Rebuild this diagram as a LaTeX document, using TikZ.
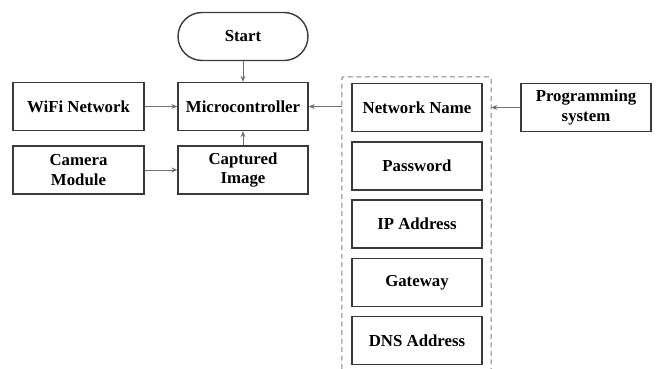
\documentclass[tikz,border=0pt]{standalone}
\usepackage{fontspec}
\setmainfont{Liberation Serif}
\usetikzlibrary{arrows.meta,calc}
\definecolor{boxline}{HTML}{3A3A3A}
\definecolor{arrowline}{HTML}{707070}
\definecolor{dashline}{HTML}{808080}
\begin{document}
\begin{tikzpicture}[x=1pt,y=-1pt,
  blk/.style={draw=boxline,line width=1.4pt,minimum width=130pt,minimum height=48pt,
    inner sep=0pt,align=center,font=\fontsize{16.8}{19.5}\selectfont\bfseries,text=black},
  term/.style={blk,rounded corners=24pt},
  conn/.style={draw=arrowline,line width=1pt,-{Stealth[length=6pt,width=5pt]}}]
\useasboundingbox (0,0) rectangle (656,369);
\node[term] (start) at (243,36.5) {Start};
\node[blk] (mc) at (243,106.5) {Microcontroller};
\node[blk,minimum width=131pt] (wifi) at (78.5,106.5) {WiFi Network};
\node[blk,minimum width=131pt] (cam) at (78.5,170) {Camera\\Module};
\node[blk] (cap) at (243,170) {Captured\\Image};
\node[blk] (nn) at (417,107.5) {Network Name};
\node[blk] (pw) at (417,166) {Password};
\node[blk] (ip) at (417,224) {IP Address};
\node[blk] (gw) at (417,282.5) {Gateway};
\node[blk] (dns) at (417,340.5) {DNS Address};
\node[blk] (prog) at (586,107.5) {Programming\\system};
\node[minimum width=149pt,minimum height=292pt,inner sep=0pt] (frame) at (416.5,223) {};
\draw[dashline,line width=1pt,dash pattern=on 5pt off 3.5pt,rounded corners=2pt]
  (frame.south west) -- (frame.north west) -- (frame.north east) -- (frame.south east);
\draw[conn] (start) -- (mc);
\draw[conn] (wifi) -- (mc);
\draw[conn] (cam) -- (cap);
\draw[conn] (cap) -- (mc);
\draw[conn] (mc.east -| frame.west) -- (mc.east);
\draw[conn] (prog.west) -- (prog.west -| frame.east);
\end{tikzpicture}
\end{document}
